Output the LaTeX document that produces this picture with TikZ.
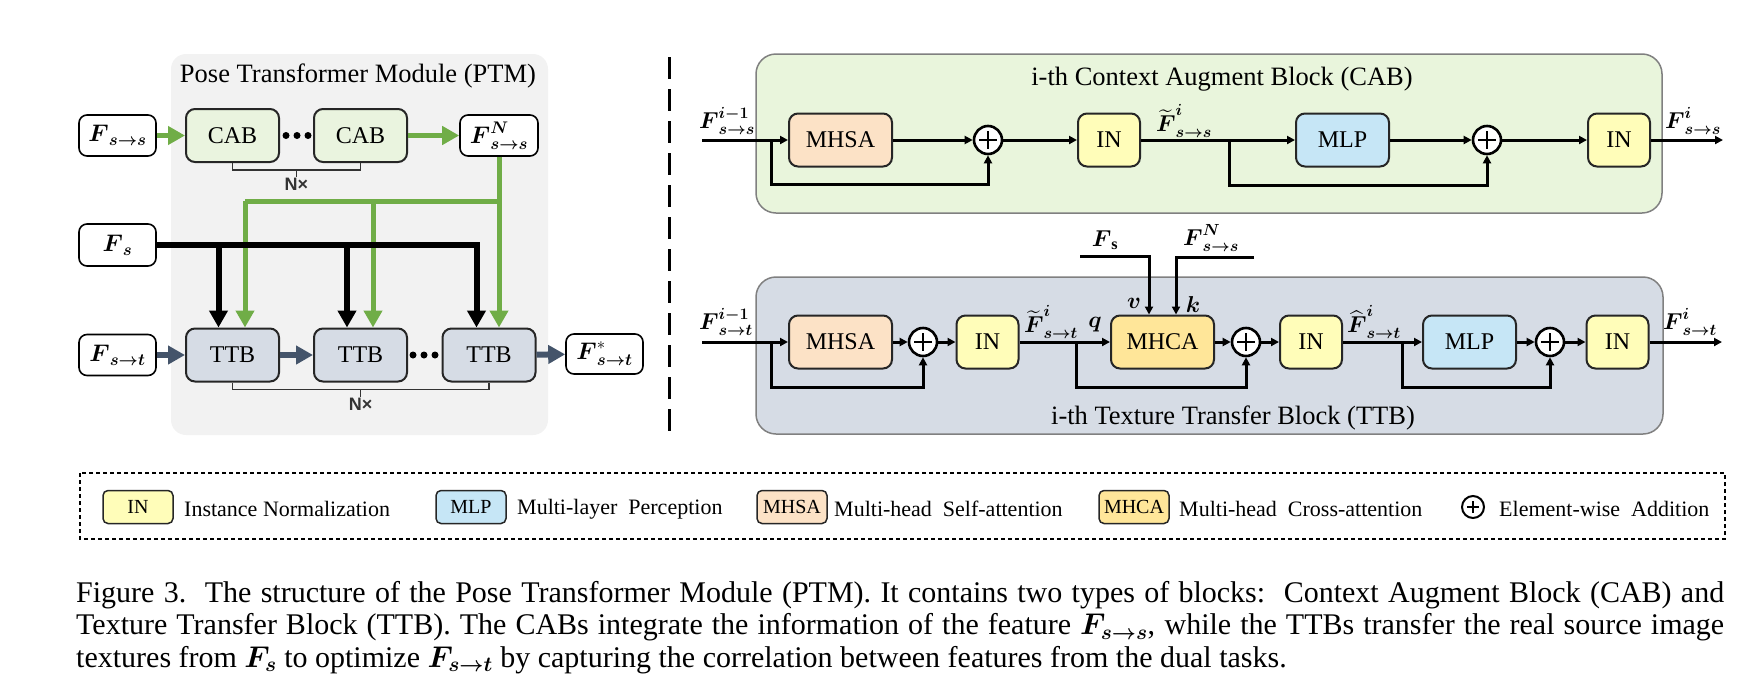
\RequirePackage{fix-cm}
\documentclass[tikz,border=0pt]{standalone}
\usepackage{amsmath,amssymb}
\usepackage{fontspec}
\setmainfont{Liberation Serif}
\setsansfont{Liberation Sans}
\usepackage{xcolor}
\usepackage{tikz}
\usetikzlibrary{arrows.meta,calc}

\definecolor{ptmgray}{HTML}{F2F2F2}
\definecolor{cabbg}{HTML}{E9F5DC}
\definecolor{cabfill}{HTML}{EAF4DF}
\definecolor{ttbbg}{HTML}{D6DCE5}
\definecolor{mhsafill}{HTML}{FCE2C6}
\definecolor{infill}{HTML}{FFFDB9}
\definecolor{mlpfill}{HTML}{C6E6F6}
\definecolor{mhcafill}{HTML}{FFE699}
\definecolor{arrowgreen}{HTML}{70AD47}
\definecolor{arrowslate}{HTML}{44546A}

\newcommand{\bF}{\boldsymbol{F}}
\newcommand{\fsz}[1]{\fontsize{#1}{#1}\selectfont}

\begin{document}
\begin{tikzpicture}[x=1pt,y=-1pt,
    opbox/.style={draw=black!85, line width=2pt, rounded corners=9pt, minimum height=53pt, inner sep=0pt, font=\fsz{24}},
    featbox/.style={draw, fill=white, line width=1.6pt, rounded corners=8pt, minimum width=77pt, minimum height=41pt, inner sep=0pt, font=\fsz{24}},
    blockbg/.style={draw=black!50, line width=1.5pt, rounded corners=20pt},
    addop/.style={circle, draw, fill=white, line width=2.6pt, minimum size=28pt, inner sep=0pt,
        path picture={\draw[line width=2.6pt] ([yshift=-5pt]path picture bounding box.north) -- ([yshift=5pt]path picture bounding box.south)
            ([xshift=5pt]path picture bounding box.west) -- ([xshift=-5pt]path picture bounding box.east);}},
    flow/.style={line width=3pt, -{Triangle[length=8pt,width=8pt]}},
    bigflow/.style={line width=6pt, -{Triangle[length=17pt,width=18pt]}},
    lbl/.style={font=\fsz{23}, inner sep=0pt},
    legbox/.style={draw=black!85, line width=1.5pt, rounded corners=5pt, minimum width=70pt, minimum height=33pt, inner sep=0pt, font=\fsz{20}},
    legtxt/.style={anchor=west, inner sep=0pt, font=\fsz{22}}
  ]
    \useasboundingbox (0,0) rectangle (1745,686);

    % Pose Transformer Module
    \fill[ptmgray, rounded corners=15pt] (171,54) rectangle (548,435);
    \node[font=\fsz{26.5}] (ptmtitle) at (358,76) {Pose Transformer Module (PTM)};

    \node[featbox] (fss) at (117.5,135.5) {$\bF_{\boldsymbol{s\rightarrow s}}$};
    \node[opbox, fill=cabfill, minimum width=93pt] (cab1) at (232.5,135.5) {CAB};
    \node[opbox, fill=cabfill, minimum width=93pt] (cab2) at (360.5,135.5) {CAB};
    \node[featbox, minimum width=78pt] (fssN) at (499,135.5) {$\bF^{\boldsymbol{N}}_{\boldsymbol{s\rightarrow s}}$};
    \node[featbox, minimum height=42pt] (fs) at (117.5,245) {$\bF_{\boldsymbol{s}}$};
    \node[featbox] (fst) at (117.5,355) {$\bF_{\boldsymbol{s\rightarrow t}}$};
    \node[opbox, fill=ttbbg, minimum width=93pt] (ttb1) at (232.5,355) {TTB};
    \node[opbox, fill=ttbbg, minimum width=93pt] (ttb2) at (360.5,355) {TTB};
    \node[opbox, fill=ttbbg, minimum width=93pt] (ttb3) at (489,355) {TTB};
    \node[featbox, minimum height=40pt] (fstar) at (604.5,354) {$\bF^{*}_{\boldsymbol{s\rightarrow t}}$};

    % dots
    \foreach \x in {286,297,308}
        \fill (\x,135.5) circle (3.5pt);
    \foreach \x in {413,424,435}
        \fill (\x,355) circle (3.5pt);

    % F_{s->s} path
    \draw[bigflow, arrowgreen, line width=5pt] (fss) -- (cab1);
    \draw[bigflow, arrowgreen, line width=5pt] (cab2) -- (fssN);
    \coordinate (gbus) at (499,201);
    \coordinate (g1) at ($(ttb1.north)+(12.5,0)$);
    \coordinate (g2) at ($(ttb2.north)+(12.5,0)$);
    \draw[arrowgreen, line width=5pt] (gbus) -- (g1 |- gbus);
    \draw[bigflow, arrowgreen, line width=5pt] (fssN) -- (fssN |- ttb3.north);
    \foreach \g in {g1,g2}
        \draw[bigflow, arrowgreen, line width=5pt] (\g |- gbus) -- (\g);

    % F_s path
    \coordinate (k1) at ($(ttb1.north)+(-14,0)$);
    \coordinate (k2) at ($(ttb2.north)+(-13.5,0)$);
    \coordinate (k3) at ($(ttb3.north)+(-12.5,0)$);
    \draw[bigflow] (fs) -| (k3);
    \foreach \k in {k1,k2}
        \draw[bigflow] (\k |- fs) -- (\k);

    % F_{s->t} path
    \draw[bigflow, arrowslate] (fst) -- (ttb1);
    \draw[bigflow, arrowslate] (ttb1) -- (ttb2);
    \draw[bigflow, arrowslate] (ttb3) -- (fstar);

    % repeat brackets
    \draw[line width=1.2pt, black!80] (cab1.south) -- ++(0,7) -| (cab2.south);
    \draw[line width=1.2pt, black!80] ($(cab1.south)!0.5!(cab2.south)+(0,7)$) -- ++(0,7)
        node[below, inner sep=1pt, font=\sffamily\bfseries\fsz{18}] (ncab) {N×};
    \draw[line width=1.2pt, black!80] (ttb1.south) -- ++(0,7) -| (ttb3.south);
    \draw[line width=1.2pt, black!80] ($(ttb1.south)!0.5!(ttb3.south)+(0,7)$) -- ++(0,7)
        node[below, inner sep=1pt, font=\sffamily\bfseries\fsz{18}] (nttb) {N×};

    % separator
    \draw[line width=3pt, dash pattern=on 22pt off 10pt] (669,57) -- (669,432);

    % i-th CAB
    \draw[blockbg, fill=cabbg] (756,54) rectangle (1662,213);
    \node[font=\fsz{26.5}] (cabtitle) at (1222,79) {i-th Context Augment Block (CAB)};

    \node[opbox, fill=mhsafill, minimum width=103pt] (cmhsa) at (840.5,140) {MHSA};
    \node[addop] (cadd1) at (988,140) {};
    \node[opbox, fill=infill, minimum width=62pt] (cin1) at (1109,140) {IN};
    \node[opbox, fill=mlpfill, minimum width=93pt] (cmlp) at (1342.5,140) {MLP};
    \node[addop] (cadd2) at (1487,140) {};
    \node[opbox, fill=infill, minimum width=62pt] (cin2) at (1619,140) {IN};
    \coordinate (cstart) at (702,140);
    \coordinate (cend) at (1723,140);
    \coordinate (cbr1) at (771,140);
    \coordinate (cbr2) at (1229,140);

    \foreach \a/\b in {cstart/cmhsa, cmhsa/cadd1, cadd1/cin1, cin1/cmlp, cmlp/cadd2, cadd2/cin2, cin2/cend}
        \draw[flow] (\a) -- (\b);
    \draw[flow] (cbr1) -- ++(0,44) -| (cadd1);
    \draw[flow] (cbr2) -- ++(0,45) -| (cadd2);

    \node[lbl] (cinlbl) at (727,121) {$\bF^{\boldsymbol{i-1}}_{\boldsymbol{s\rightarrow s}}$};
    \node[lbl] (cmidlbl) at (1184,121) {$\widetilde{\bF}^{\boldsymbol{i}}_{\boldsymbol{s\rightarrow s}}$};
    \node[lbl] (coutlbl) at (1693,121) {$\bF^{\boldsymbol{i}}_{\boldsymbol{s\rightarrow s}}$};

    % i-th TTB
    \draw[blockbg, fill=ttbbg] (756,277) rectangle (1663,434);
    \node[font=\fsz{26.5}] (ttbtitle) at (1233,418) {i-th Texture Transfer Block (TTB)};

    \node[opbox, fill=mhsafill, minimum width=103pt] (tmhsa) at (840.5,342) {MHSA};
    \node[addop] (tadd1) at (923,342) {};
    \node[opbox, fill=infill, minimum width=62pt] (tin1) at (987.5,342) {IN};
    \node[opbox, fill=mhcafill, minimum width=103pt] (tmhca) at (1162.5,342) {MHCA};
    \node[addop] (tadd2) at (1246,342) {};
    \node[opbox, fill=infill, minimum width=62pt] (tin2) at (1311,342) {IN};
    \node[opbox, fill=mlpfill, minimum width=93pt] (tmlp) at (1469.5,342) {MLP};
    \node[addop] (tadd3) at (1550,342) {};
    \node[opbox, fill=infill, minimum width=62pt] (tin3) at (1617.5,342) {IN};
    \coordinate (tstart) at (702,342);
    \coordinate (tend) at (1722,342);
    \coordinate (tbr1) at (771,342);
    \coordinate (tbr2) at (1076,342);
    \coordinate (tbr3) at (1402,342);

    \foreach \a/\b in {tstart/tmhsa, tmhsa/tadd1, tadd1/tin1, tin1/tmhca, tmhca/tadd2, tadd2/tin2, tin2/tmlp, tmlp/tadd3, tadd3/tin3, tin3/tend}
        \draw[flow] (\a) -- (\b);
    \draw[flow] (tbr1) -- ++(0,45) -| (tadd1);
    \draw[flow] (tbr2) -- ++(0,45) -| (tadd2);
    \draw[flow] (tbr3) -- ++(0,45) -| (tadd3);

    % cross-attention inputs
    \node[lbl] (tfs) at (1105,240) {$\bF_{\mathbf{s}}$};
    \node[lbl] (tfsn) at (1211,238) {$\bF^{\boldsymbol{N}}_{\boldsymbol{s\rightarrow s}}$};
    \coordinate (tfsend) at (1080,256);
    \coordinate (tfsnend) at (1254,257);
    \draw[flow] (tfsend) -| ($(tmhca.north)+(-13.5,0)$);
    \draw[flow] (tfsnend) -| ($(tmhca.north)+(13.5,0)$);

    \node[lbl] (tinlbl) at (726,322) {$\bF^{\boldsymbol{i-1}}_{\boldsymbol{s\rightarrow t}}$};
    \node[lbl] (tmid1) at (1051,322) {$\widetilde{\bF}^{\boldsymbol{i}}_{\boldsymbol{s\rightarrow t}}$};
    \node[lbl] (qlbl) at (1095,325) {$\boldsymbol{q}$};
    \node[lbl] (vlbl) at (1134,303) {$\boldsymbol{v}$};
    \node[lbl] (klbl) at (1193,305) {$\boldsymbol{k}$};
    \node[lbl] (tmid2) at (1374,322) {$\widehat{\bF}^{\boldsymbol{i}}_{\boldsymbol{s\rightarrow t}}$};
    \node[lbl] (toutlbl) at (1690,322) {$\bF^{\boldsymbol{i}}_{\boldsymbol{s\rightarrow t}}$};

    % Legend
    \draw[line width=1.3pt, dash pattern=on 4pt off 3pt] (80,473) rectangle (1725,539);
    \node[legbox, fill=infill] (legin) at (138,507) {IN};
    \node[legtxt] (legintxt) at (184,509) {Instance Normalization};
    \node[legbox, fill=mlpfill] (legmlp) at (471,507) {MLP};
    \node[legtxt] (legmlptxt) at (517,509) {Multi-layer\ \ Perception};
    \node[legbox, fill=mhsafill] (legmhsa) at (792,507) {MHSA};
    \node[legtxt] (legmhsatxt) at (834,509) {Multi-head\ \ Self-attention};
    \node[legbox, fill=mhcafill] (legmhca) at (1134,507) {MHCA};
    \node[legtxt] (legmhcatxt) at (1179,509) {Multi-head\ \ Cross-attention};
    \node[addop, minimum size=22pt, line width=2pt] (legadd) at (1473,507) {};
    \node[legtxt] (legaddtxt) at (1499,509) {Element-wise\ \ Addition};

    % Caption
    \node[anchor=base west, inner sep=0pt, font=\fsz{30}] (cap1) at (76,602)
        {\makebox[1648pt][s]{Figure 3.\ \ The structure of the Pose Transformer Module (PTM). It contains two types of blocks:\ \ Context Augment Block (CAB) and}};
    \node[anchor=base west, inner sep=0pt, font=\fsz{30}] (cap2) at (76,634.5)
        {\makebox[1648pt][s]{Texture Transfer Block (TTB). The CABs integrate the information of the feature $\boldsymbol{F_{s\rightarrow s}}$, while the TTBs transfer the real source image}};
    \node[anchor=base west, inner sep=0pt, font=\fsz{30}] (cap3) at (76,667)
        {textures from $\boldsymbol{F_{s}}$ to optimize $\boldsymbol{F_{s\rightarrow t}}$ by capturing the correlation between features from the dual tasks.};
\end{tikzpicture}
\end{document}
